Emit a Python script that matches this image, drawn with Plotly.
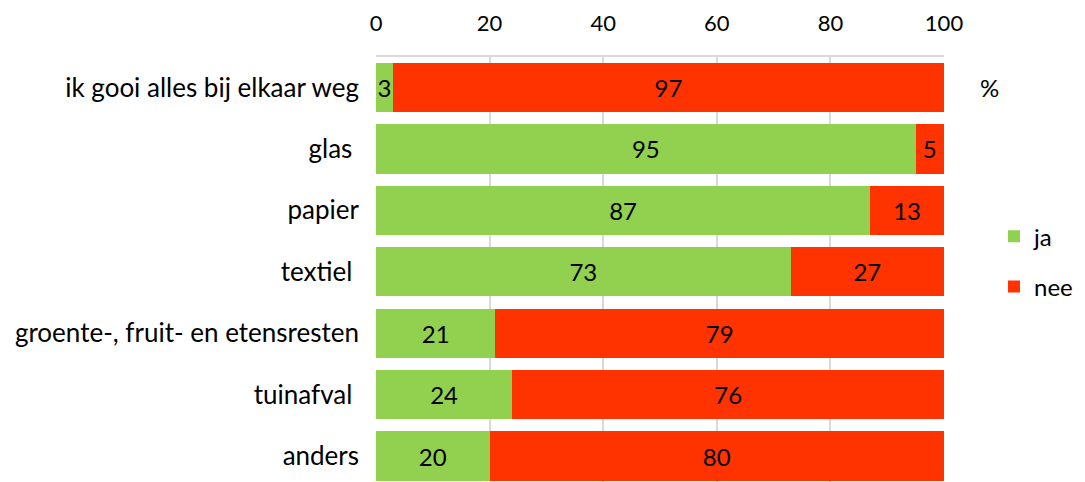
import plotly.graph_objects as go

categories = ["ik gooi alles bij elkaar weg", "glas ", "papier", "textiel ",
              "groente-, fruit- en etensresten", "tuinafval ", "anders"]
ja = [3, 95, 87, 73, 21, 24, 20]
nee = [97, 5, 13, 27, 79, 76, 80]
xticks = [0, 20, 40, 60, 80, 100]

ypos = list(range(len(categories)))
FONT = "Lato"

fig = go.Figure()
fig.add_trace(go.Bar(
    y=ypos, x=ja, name="ja", orientation="h",
    marker=dict(color="#92D050", line=dict(width=0)),
    text=[str(v) for v in ja], textposition="inside", insidetextanchor="middle",
    textfont=dict(family=FONT, size=24, color="black"),
    legendgroup="a", width=0.8, cliponaxis=False,
))
fig.add_trace(go.Bar(
    y=ypos, x=nee, name="nee", orientation="h",
    marker=dict(color="#FF3300", line=dict(width=0)),
    text=[str(v) for v in nee], textposition="inside", insidetextanchor="middle",
    textfont=dict(family=FONT, size=24, color="black"),
    legendgroup="b", width=0.8, cliponaxis=False,
))

fig.update_layout(
    barmode="stack",
    width=1077, height=474,
    margin=dict(l=368, r=141, t=49, b=0, autoexpand=False),
    plot_bgcolor="white", paper_bgcolor="white",
    font=dict(family=FONT, size=24, color="black"),
    uniformtext=dict(minsize=24, mode="show"),
    legend=dict(x=1.088, y=0.63, xanchor="left", yanchor="top",
                font=dict(family=FONT, size=24), tracegroupgap=16,
                itemwidth=30, bgcolor="rgba(0,0,0,0)"),
    xaxis=dict(side="top", range=[0, 100], tickvals=xticks,
               ticktext=[str(v) for v in xticks], automargin=False,
               showgrid=True, gridcolor="#D9D9D9", gridwidth=1.5,
               zeroline=False, showline=True, linecolor="#D9D9D9", linewidth=2,
               mirror=False, ticks="", ticklabelstandoff=15,
               tickfont=dict(family=FONT, size=22)),
    yaxis=dict(range=[6.423, -0.497], tickvals=ypos, ticktext=categories,
               automargin=False,
               showgrid=False, zeroline=False, showline=False, ticks="",
               ticklabelstandoff=16, tickfont=dict(family=FONT, size=26)),
    annotations=[dict(text="%", x=1.08, y=0, xref="paper", yref="y",
                      xanchor="center", showarrow=False,
                      font=dict(family=FONT, size=24))],
)
fig.write_html("out.html")
